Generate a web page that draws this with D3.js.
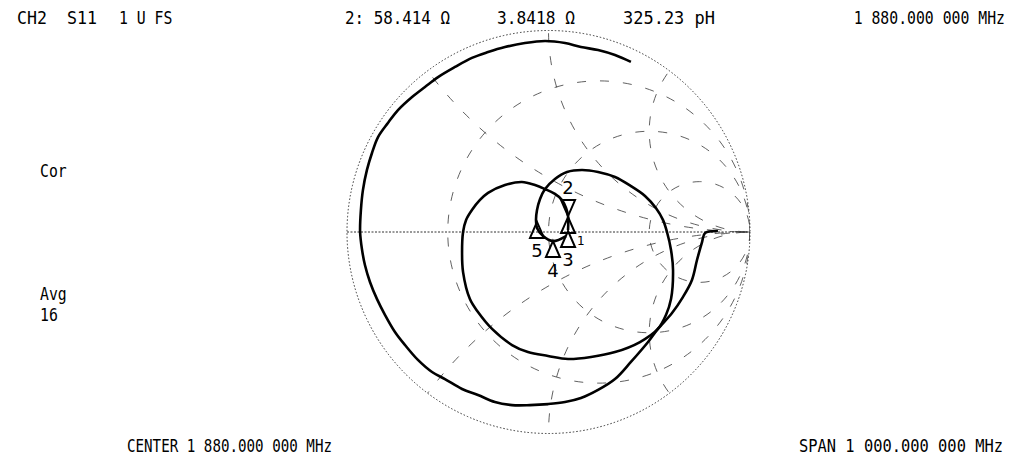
<!DOCTYPE html>
<html><head><meta charset="utf-8">
<script src="https://cdn.jsdelivr.net/npm/d3@7"></script>
<style>body{margin:0;background:#fff}svg{display:block}</style>
</head><body>
<svg id="c" width="1015" height="471"></svg>
<script>
// ---- texts ----
const headerTokens = ["CH2", "S11", "1 U FS"];
const readoutTokens = ["2: 58.414 Ω", "3.8418 Ω", "325.23 pH"];
const markerFreq = "1 880.000 000 MHz";
const corLabel = "Cor";
const avgLabel = "Avg";
const avgCount = "16";
const centerLabel = "CENTER 1 880.000 000 MHz";
const spanLabel = "SPAN 1 000.000 000 MHz";

// ---- Smith grid values ----
const gridR = [1/3, 1, 3];
const gridX = [0.5, 1, 2, -0.5, -1, -2];

// ---- trace (reflection coefficient, re / im) ----
const outerRe = [0.841,0.777,0.762,0.737,0.712,0.667,0.613,0.543,0.494,0.409,0.330,0.246,0.161,0.082,-0.002,-0.092,-0.181,-0.266,-0.350,-0.429,-0.514,-0.578,-0.648,-0.712,-0.762,-0.811,-0.851,-0.886,-0.911,-0.926,-0.935,-0.931,-0.921,-0.901,-0.876,-0.846,-0.797,-0.747,-0.677,-0.613,-0.548,-0.464,-0.380,-0.300,-0.216,-0.117,-0.017,0.082,0.161,0.246,0.330,0.409];
const outerIm = [0.005,-0.005,-0.050,-0.139,-0.238,-0.323,-0.402,-0.481,-0.546,-0.645,-0.730,-0.784,-0.824,-0.844,-0.854,-0.859,-0.859,-0.844,-0.809,-0.779,-0.730,-0.695,-0.635,-0.561,-0.496,-0.412,-0.333,-0.248,-0.164,-0.084,0.000,0.109,0.208,0.308,0.392,0.471,0.541,0.605,0.670,0.720,0.769,0.819,0.864,0.893,0.918,0.938,0.948,0.938,0.918,0.903,0.878,0.844];
const innerRe = [0.087,0.022,-0.027,-0.057,-0.062,-0.057,-0.042,-0.017,0.032,0.092,0.166,0.246,0.330,0.409,0.479,0.533,0.568,0.588,0.608,0.618,0.608,0.583,0.543,0.454,0.330,0.211,0.097,-0.002,-0.102,-0.181,-0.280,-0.350,-0.390,-0.424,-0.429,-0.424,-0.409,-0.380,-0.340,-0.300,-0.216,-0.132,-0.067,-0.017,0.032,0.067,0.087,0.097,0.097];
const innerIm = [-0.020,-0.045,-0.020,0.020,0.060,0.109,0.164,0.213,0.263,0.298,0.308,0.298,0.273,0.228,0.179,0.119,0.060,0.000,-0.089,-0.189,-0.333,-0.412,-0.481,-0.546,-0.596,-0.620,-0.630,-0.615,-0.596,-0.561,-0.481,-0.397,-0.333,-0.199,-0.099,0.000,0.060,0.109,0.159,0.194,0.233,0.248,0.233,0.213,0.189,0.159,0.119,0.079,0.010];

// ---- markers ----
const markerIds = ["1","2","3","4","5"];
const markerRe = [0.097, 0.097, 0.097, 0.022, -0.057];
const markerIm = [0.074, 0.079, 0.005, -0.045, 0.050];
const markerActive = [false, true, false, false, false];

// ---- layout ----
const svg = d3.select("#c");
const cx = 548.5, cy = 232, R = 201.5;
const x = d3.scaleLinear().domain([-1, 1]).range([cx - R, cx + R]);
const y = d3.scaleLinear().domain([-1, 1]).range([cy + R, cy - R]);
const font = "'DejaVu Sans Mono', 'Liberation Mono', monospace";

svg.append("defs").append("clipPath").attr("id", "unit")
  .append("circle").attr("cx", x(0)).attr("cy", y(0)).attr("r", x(1) - x(0));

const grid = svg.append("g").attr("clip-path", "url(#unit)")
  .attr("fill", "none").attr("stroke", "#444").attr("stroke-width", 0.85)
  .attr("stroke-dasharray", "9,14");

grid.selectAll("circle.r").data(gridR).join("circle")
  .attr("class", "r")
  .attr("cx", r => x(r / (1 + r)))
  .attr("cy", y(0))
  .attr("r", r => x(1 / (1 + r)) - x(0));

grid.selectAll("circle.xarc").data(gridX).join("circle")
  .attr("class", "xarc")
  .attr("cx", x(1))
  .attr("cy", v => y(1 / v))
  .attr("r", v => x(Math.abs(1 / v)) - x(0));

svg.append("line")
  .attr("x1", x(-1)).attr("x2", x(1)).attr("y1", y(0)).attr("y2", y(0))
  .attr("stroke", "#333").attr("stroke-width", 1).attr("stroke-dasharray", "2,1.5");

svg.append("circle").attr("cx", x(0)).attr("cy", y(0)).attr("r", x(1) - x(0))
  .attr("fill", "none").attr("stroke", "#333").attr("stroke-width", 1)
  .attr("stroke-dasharray", "1.5,2");

// traces
const line = d3.line().x(d => x(d[0])).y(d => y(d[1])).curve(d3.curveCatmullRom.alpha(0.5));
const outerPts = outerRe.map((v, i) => [v, outerIm[i]]);
const innerPts = innerRe.map((v, i) => [v, innerIm[i]]);
svg.append("path").attr("d", line(outerPts)).attr("fill", "none")
  .attr("stroke", "#000").attr("stroke-width", 2.6).attr("stroke-linejoin", "round");
svg.append("path").attr("d", line(innerPts)).attr("fill", "none")
  .attr("stroke", "#000").attr("stroke-width", 2.6).attr("stroke-linejoin", "round");

// markers
const mk = svg.append("g");
markerIds.forEach((id, i) => {
  const px = x(markerRe[i]), py = y(markerIm[i]);
  const w = 7, h = 16;
  const dir = markerActive[i] ? -1 : 1;
  mk.append("path")
    .attr("d", `M${px},${py} L${px - w},${py + dir * h} L${px + w},${py + dir * h} Z`)
    .attr("fill", "none").attr("stroke", "#000").attr("stroke-width", 2);
  const t = mk.append("text")
    .attr("font-family", "'DejaVu Sans', sans-serif")
    .attr("dominant-baseline", "central")
    .text(id);
  if (id === "1") {
    t.attr("x", px + 9).attr("y", py + 24).attr("font-size", 12).attr("text-anchor", "start");
  } else {
    t.attr("x", px).attr("y", py + dir * 29).attr("font-size", 18).attr("text-anchor", "middle");
  }
});

// annotation texts
function txt(s, xx, yy, anchor, len) {
  const t = svg.append("text")
    .attr("transform", `translate(${xx},${yy}) scale(1,1.18)`)
    .attr("text-anchor", anchor || "start")
    .attr("font-family", font).attr("font-size", 14.8)
    .attr("xml:space", "preserve").style("white-space", "pre")
    .text(s);
  if (len) t.attr("textLength", len).attr("lengthAdjust", "spacingAndGlyphs");
}
txt(headerTokens[0], 17, 24, "start", 30);
txt(headerTokens[1], 67, 24, "start", 30);
txt(headerTokens[2], 119, 24);
txt(readoutTokens[0], 345, 24, "start", 105);
txt(readoutTokens[1], 497, 24, "start", 78);
txt(readoutTokens[2], 715, 24, "end", 92);
txt(markerFreq, 1005, 24, "end");
txt(corLabel, 40, 177);
txt(avgLabel, 40, 300);
txt(avgCount, 40, 321);
txt(centerLabel, 127, 452, "start", 205);
txt(spanLabel, 1003, 452, "end", 204);
</script>
</body></html>
